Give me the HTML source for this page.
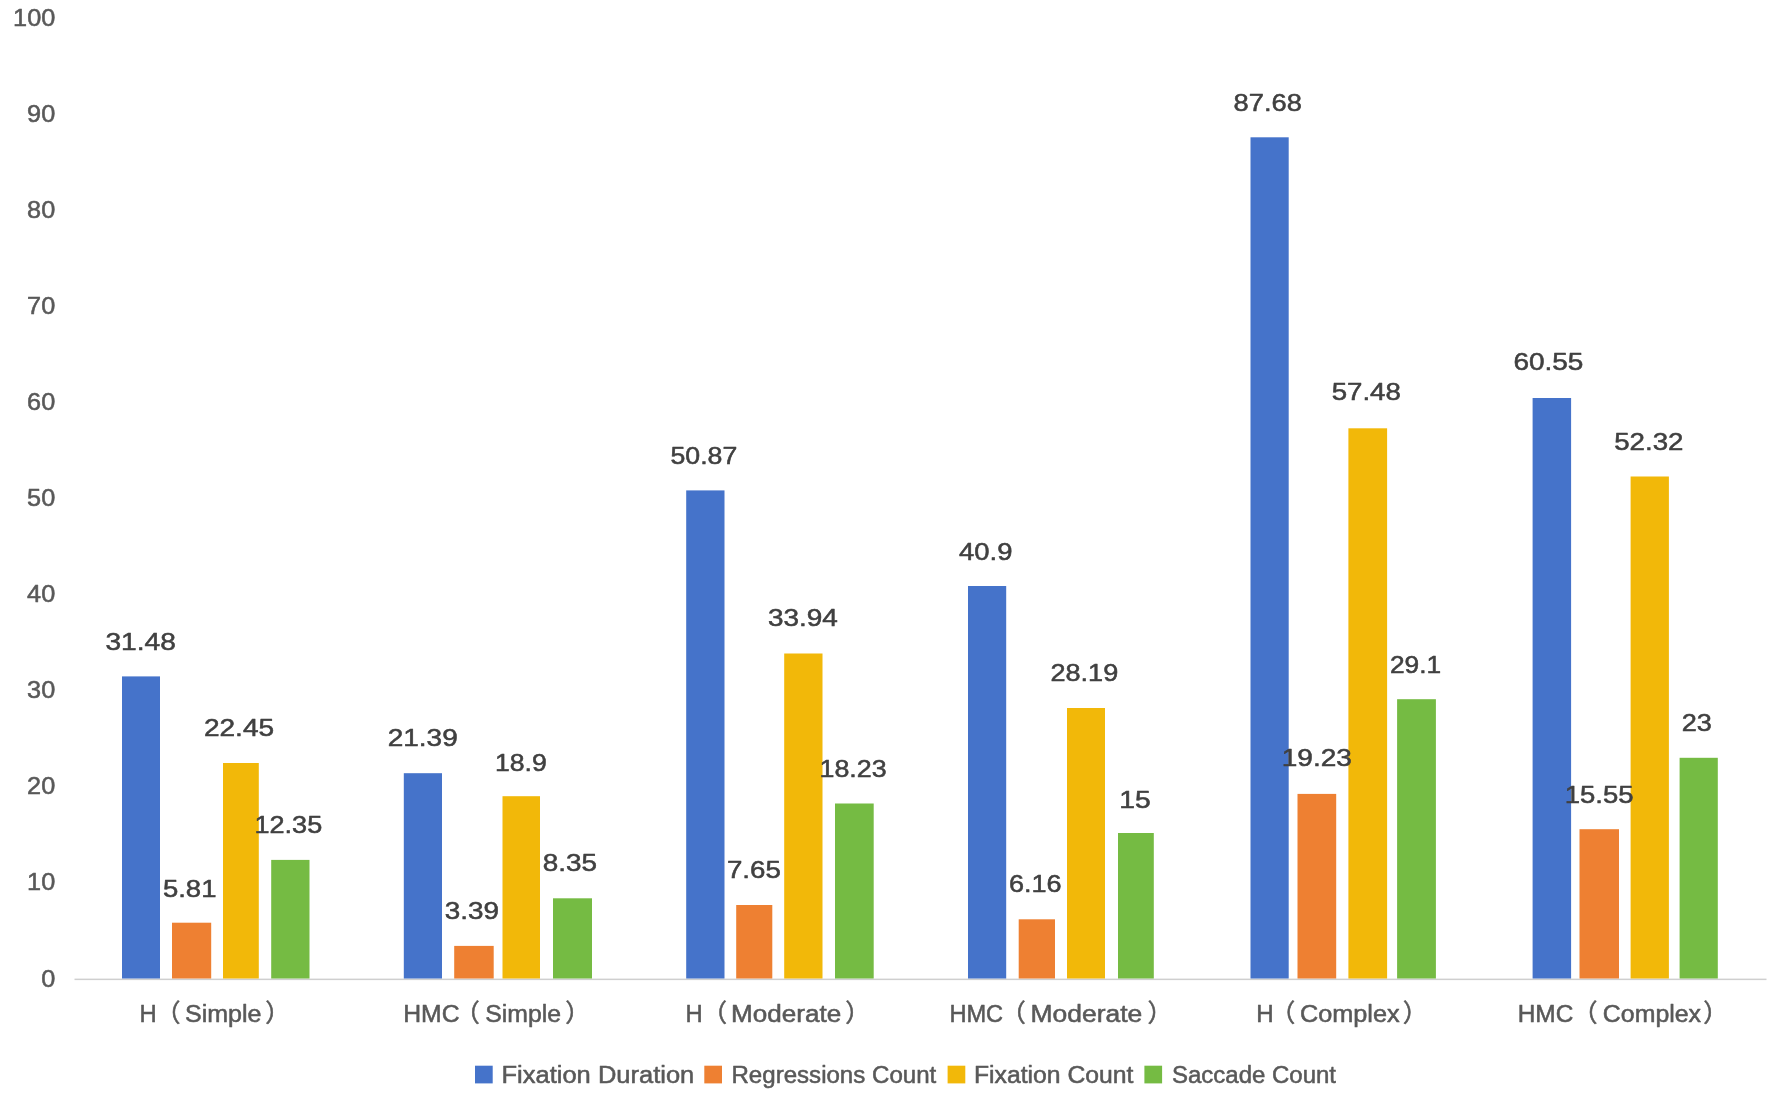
<!DOCTYPE html>
<html lang="en"><head><meta charset="utf-8"><title>Eye-tracking metrics chart</title>
<style>
html,body{margin:0;padding:0;background:#fff;}
body{width:1772px;height:1108px;overflow:hidden;}
svg{display:block;}
.shapes{filter:blur(0.5px);}
.labels{filter:blur(0.75px);}
text{font-family:"Liberation Sans","Noto Sans CJK SC",sans-serif;font-size:24.8px;stroke-width:0.55;stroke-linejoin:round;}
.ax{fill:#595959;stroke:#595959;}
.dl{fill:#404040;stroke:#404040;}
.ct{fill:#595959;stroke:#595959;}
.lg{fill:#595959;stroke:#595959;}
</style></head><body>
<svg width="1772" height="1108" viewBox="0 0 1772 1108">
<rect x="0" y="0" width="1772" height="1108" fill="#ffffff"/>
<g class="shapes">
<rect x="74.5" y="978.6" width="1692" height="1.5" fill="#cfcfcf"/>
<rect x="122.0" y="676.4" width="38.0" height="302.1" fill="#4573CA"/>
<rect x="172.0" y="922.7" width="39.2" height="55.8" fill="#EE8032"/>
<rect x="223.0" y="763.0" width="35.8" height="215.5" fill="#F2B809"/>
<rect x="271.2" y="859.9" width="38.3" height="118.6" fill="#75BB43"/>
<rect x="403.8" y="773.2" width="38.2" height="205.3" fill="#4573CA"/>
<rect x="454.2" y="945.9" width="39.5" height="32.6" fill="#EE8032"/>
<rect x="502.5" y="796.2" width="37.5" height="182.3" fill="#F2B809"/>
<rect x="553.0" y="898.3" width="39.0" height="80.2" fill="#75BB43"/>
<rect x="686.2" y="490.4" width="38.3" height="488.1" fill="#4573CA"/>
<rect x="736.2" y="905.0" width="36.1" height="73.5" fill="#EE8032"/>
<rect x="784.2" y="653.5" width="38.3" height="325.0" fill="#F2B809"/>
<rect x="835.0" y="803.5" width="38.7" height="175.0" fill="#75BB43"/>
<rect x="968.0" y="586.0" width="38.2" height="392.5" fill="#4573CA"/>
<rect x="1018.7" y="919.3" width="36.3" height="59.2" fill="#EE8032"/>
<rect x="1067.0" y="708.0" width="38.0" height="270.5" fill="#F2B809"/>
<rect x="1118.0" y="833.0" width="35.8" height="145.5" fill="#75BB43"/>
<rect x="1250.5" y="137.3" width="38.2" height="841.2" fill="#4573CA"/>
<rect x="1297.5" y="793.9" width="38.7" height="184.6" fill="#EE8032"/>
<rect x="1348.4" y="428.3" width="38.7" height="550.2" fill="#F2B809"/>
<rect x="1397.1" y="699.2" width="38.8" height="279.3" fill="#75BB43"/>
<rect x="1532.6" y="398.0" width="38.5" height="580.5" fill="#4573CA"/>
<rect x="1579.5" y="829.2" width="39.5" height="149.3" fill="#EE8032"/>
<rect x="1630.6" y="476.5" width="38.3" height="502.0" fill="#F2B809"/>
<rect x="1679.6" y="757.8" width="38.2" height="220.7" fill="#75BB43"/>
<rect x="475.0" y="1065.7" width="17.7" height="17.7" fill="#4573CA"/>
<rect x="704.3" y="1065.7" width="17.7" height="17.7" fill="#EE8032"/>
<rect x="947.6" y="1065.7" width="17.7" height="17.7" fill="#F2B809"/>
<rect x="1144.4" y="1065.7" width="17.7" height="17.7" fill="#75BB43"/>
</g>
<g class="labels">
<text class="ax" transform="translate(41.15,987.38) scale(1.0200,1)">0</text>
<text class="ax" transform="translate(27.11,889.58) scale(1.0200,1)">10</text>
<text class="ax" transform="translate(27.11,793.58) scale(1.0200,1)">20</text>
<text class="ax" transform="translate(27.11,697.58) scale(1.0200,1)">30</text>
<text class="ax" transform="translate(27.11,601.58) scale(1.0200,1)">40</text>
<text class="ax" transform="translate(27.11,505.58) scale(1.0200,1)">50</text>
<text class="ax" transform="translate(27.11,409.58) scale(1.0200,1)">60</text>
<text class="ax" transform="translate(27.11,313.58) scale(1.0200,1)">70</text>
<text class="ax" transform="translate(27.11,217.58) scale(1.0200,1)">80</text>
<text class="ax" transform="translate(27.11,121.58) scale(1.0200,1)">90</text>
<text class="ax" transform="translate(13.07,25.58) scale(1.0200,1)">100</text>
<text class="dl" transform="translate(105.42,649.73) scale(1.1355,1)">31.48</text>
<text class="dl" transform="translate(162.95,896.61) scale(1.1089,1)">5.81</text>
<text class="dl" transform="translate(203.90,736.42) scale(1.1319,1)">22.45</text>
<text class="dl" transform="translate(254.52,832.69) scale(1.0913,1)">12.35</text>
<text class="dl" transform="translate(387.65,746.13) scale(1.1300,1)">21.39</text>
<text class="dl" transform="translate(444.68,919.46) scale(1.1251,1)">3.39</text>
<text class="dl" transform="translate(494.90,770.57) scale(1.0738,1)">18.9</text>
<text class="dl" transform="translate(542.79,871.30) scale(1.1251,1)">8.35</text>
<text class="dl" transform="translate(670.48,463.98) scale(1.0775,1)">50.87</text>
<text class="dl" transform="translate(726.91,878.41) scale(1.1173,1)">7.65</text>
<text class="dl" transform="translate(767.93,626.23) scale(1.1267,1)">33.94</text>
<text class="dl" transform="translate(819.49,776.78) scale(1.0820,1)">18.23</text>
<text class="dl" transform="translate(959.05,559.60) scale(1.1067,1)">40.9</text>
<text class="dl" transform="translate(1008.95,892.43) scale(1.0901,1)">6.16</text>
<text class="dl" transform="translate(1050.45,681.39) scale(1.0923,1)">28.19</text>
<text class="dl" transform="translate(1119.18,807.53) scale(1.1408,1)">15</text>
<text class="dl" transform="translate(1233.57,110.92) scale(1.1003,1)">87.68</text>
<text class="dl" transform="translate(1281.70,766.49) scale(1.1311,1)">19.23</text>
<text class="dl" transform="translate(1331.69,399.52) scale(1.1147,1)">57.48</text>
<text class="dl" transform="translate(1389.99,672.90) scale(1.0604,1)">29.1</text>
<text class="dl" transform="translate(1513.40,370.17) scale(1.1277,1)">60.55</text>
<text class="dl" transform="translate(1564.74,802.64) scale(1.1099,1)">15.55</text>
<text class="dl" transform="translate(1614.19,449.65) scale(1.1160,1)">52.32</text>
<text class="dl" transform="translate(1681.69,731.28) scale(1.0931,1)">23</text>
<text class="ct" transform="translate(139.60,1022.30) scale(0.9577,1)">H</text>
<text class="ct" transform="translate(155.71,1022.30) scale(1.0000,1)">（</text>
<text class="ct" transform="translate(184.97,1022.30) scale(1.0104,1)">Simple</text>
<text class="ct" transform="translate(265.24,1022.30) scale(1.0000,1)">）</text>
<text class="ct" transform="translate(403.22,1022.30) scale(0.9987,1)">HMC</text>
<text class="ct" transform="translate(455.11,1022.30) scale(1.0000,1)">（</text>
<text class="ct" transform="translate(485.28,1022.30) scale(1.0009,1)">Simple</text>
<text class="ct" transform="translate(565.34,1022.30) scale(1.0000,1)">）</text>
<text class="ct" transform="translate(685.50,1022.30) scale(0.9577,1)">H</text>
<text class="ct" transform="translate(702.21,1022.30) scale(1.0000,1)">（</text>
<text class="ct" transform="translate(731.11,1022.30) scale(1.0513,1)">Moderate</text>
<text class="ct" transform="translate(845.34,1022.30) scale(1.0000,1)">）</text>
<text class="ct" transform="translate(949.41,1022.30) scale(0.9521,1)">HMC</text>
<text class="ct" transform="translate(1001.11,1022.30) scale(1.0000,1)">（</text>
<text class="ct" transform="translate(1030.58,1022.30) scale(1.0671,1)">Moderate</text>
<text class="ct" transform="translate(1147.54,1022.30) scale(1.0000,1)">）</text>
<text class="ct" transform="translate(1256.17,1022.30) scale(0.9721,1)">H</text>
<text class="ct" transform="translate(1270.51,1022.30) scale(1.0000,1)">（</text>
<text class="ct" transform="translate(1299.94,1022.30) scale(1.0192,1)">Complex</text>
<text class="ct" transform="translate(1402.69,1022.30) scale(1.0000,1)">）</text>
<text class="ct" transform="translate(1517.64,1022.30) scale(0.9857,1)">HMC</text>
<text class="ct" transform="translate(1572.66,1022.30) scale(1.0000,1)">（</text>
<text class="ct" transform="translate(1602.86,1022.30) scale(1.0037,1)">Complex</text>
<text class="ct" transform="translate(1703.19,1022.30) scale(1.0000,1)">）</text>
<text class="lg" transform="translate(501.46,1082.80) scale(1.0289,1)">Fixation Duration</text>
<text class="lg" transform="translate(731.47,1082.80) scale(0.9713,1)">Regressions Count</text>
<text class="lg" transform="translate(973.92,1082.80) scale(0.9979,1)">Fixation Count</text>
<text class="lg" transform="translate(1172.02,1082.80) scale(0.9675,1)">Saccade Count</text>
</g>
</svg></body></html>
